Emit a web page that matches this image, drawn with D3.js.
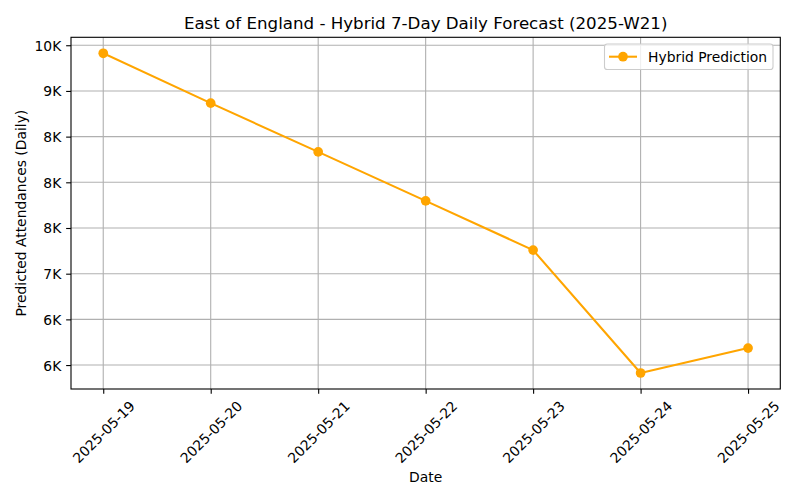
<!DOCTYPE html>
<html><head><meta charset="utf-8">
<script src="https://cdn.jsdelivr.net/npm/d3@7"></script>
<style>body{margin:0;background:#fff}svg{display:block}text{font-family:"DejaVu Sans",sans-serif}</style>
</head><body><svg id="c" width="800" height="500"></svg>
<script>
const dates = ["2025-05-19","2025-05-20","2025-05-21","2025-05-22","2025-05-23","2025-05-24","2025-05-25"];
const values = [9412, 8866, 8333, 7797, 7258, 5913, 6186];
const yTickValues = [6000, 6500, 7000, 7500, 8000, 8500, 9000, 9500];
const yTickLabels = ["6K", "6K", "7K", "8K", "8K", "8K", "9K", "10K"];
const title = "East of England - Hybrid 7-Day Daily Forecast (2025-W21)";
const seriesName = "Hybrid Prediction";

const svg = d3.select("#c");
const L = 71, R = 780.3, T = 37.3, B = 389;
const parse = d3.timeParse("%Y-%m-%d");
const dts = dates.map(parse);
const span = dts[dts.length-1] - dts[0];
const x = d3.scaleTime().domain([new Date(+dts[0] - span*0.05), new Date(+dts[dts.length-1] + span*0.05)]).range([L, R]);
const ymin = d3.min(values), ymax = d3.max(values), yr = ymax - ymin;
const y = d3.scaleLinear().domain([ymin - yr*0.05, ymax + yr*0.05]).range([B, T]);
const fs = 13.89;
const color = "#FFA500";
const mr = 4.85;

// grid
const g = svg.append("g");
g.selectAll(".gx").data(dts).join("line")
  .attr("x1", d => x(d)).attr("x2", d => x(d)).attr("y1", T).attr("y2", B)
  .attr("stroke", "#b0b0b0").attr("stroke-width", 1.1);
g.selectAll(".gy").data(yTickValues).join("line")
  .attr("x1", L).attr("x2", R).attr("y1", d => y(d)).attr("y2", d => y(d))
  .attr("stroke", "#b0b0b0").attr("stroke-width", 1.1);

// line + markers
const line = d3.line().x((d,i) => x(dts[i])).y(d => y(d));
svg.append("path").datum(values).attr("d", line).attr("fill", "none")
  .attr("stroke", color).attr("stroke-width", 2.08).attr("stroke-linejoin", "round").attr("stroke-linecap", "square");
svg.selectAll(".pt").data(values).join("circle")
  .attr("cx", (d,i) => x(dts[i])).attr("cy", d => y(d)).attr("r", mr).attr("fill", color);

// spines
svg.append("rect").attr("x", L).attr("y", T).attr("width", R-L).attr("height", B-T)
  .attr("fill", "none").attr("stroke", "#000").attr("stroke-width", 1.1);

// x axis
const xa = svg.append("g").attr("transform", `translate(0,${B})`)
  .call(d3.axisBottom(x).tickValues(dts).tickSize(4.86).tickFormat(d3.timeFormat("%Y-%m-%d")));
xa.select(".domain").remove();
xa.selectAll("line").attr("stroke", "#000").attr("stroke-width", 1.1);
xa.selectAll("text").attr("font-size", fs).attr("fill", "#000")
  .attr("text-anchor", "middle").attr("dominant-baseline", "central")
  .attr("y", 0).attr("dy", null)
  .attr("transform", "translate(0,43) rotate(-45)");

// y axis
const ya = svg.append("g").attr("transform", `translate(${L},0)`)
  .call(d3.axisLeft(y).tickValues(yTickValues).tickSize(4.86).tickPadding(4.86)
    .tickFormat((d,i) => yTickLabels[i]));
ya.select(".domain").remove();
ya.selectAll("line").attr("stroke", "#000").attr("stroke-width", 1.1);
ya.selectAll("text").attr("font-size", fs).attr("fill", "#000").attr("dy", null).attr("dominant-baseline", "central");

// titles
svg.append("text").attr("x", (L+R)/2).attr("y", 29).attr("text-anchor", "middle")
  .attr("font-size", 16.67).text(title);
svg.append("text").attr("x", (L+R)/2).attr("y", 477).attr("text-anchor", "middle")
  .attr("dominant-baseline", "central").attr("font-size", fs).text("Date");
svg.append("text").attr("transform", `translate(20.5,${(T+B)/2}) rotate(-90)`).attr("text-anchor", "middle")
  .attr("dominant-baseline", "central").attr("font-size", fs).text("Predicted Attendances (Daily)");

// legend
const lg = svg.append("g");
lg.append("rect").attr("x", 604.5).attr("y", 44).attr("width", 168.5).attr("height", 25.5).attr("rx", 2.8)
  .attr("fill", "#fff").attr("fill-opacity", 0.8).attr("stroke", "#cccccc").attr("stroke-width", 1.1);
lg.append("line").attr("x1", 609).attr("x2", 637).attr("y1", 56.7).attr("y2", 56.7)
  .attr("stroke", color).attr("stroke-width", 2.08);
lg.append("circle").attr("cx", 623).attr("cy", 56.7).attr("r", mr).attr("fill", color);
lg.append("text").attr("x", 648).attr("y", 56.7).attr("dominant-baseline", "central")
  .attr("font-size", fs).text(seriesName);
</script></body></html>
